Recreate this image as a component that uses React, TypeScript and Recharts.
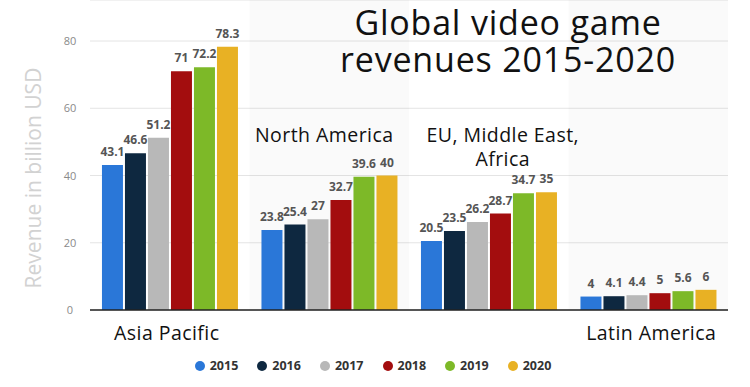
import React from 'react';
import { BarChart, Bar, XAxis, YAxis, CartesianGrid, ReferenceArea, LabelList } from 'recharts';

const categories = ['Asia Pacific', 'North America', 'EU, Middle East, Africa', 'Latin America'];
const years = ['2015', '2016', '2017', '2018', '2019', '2020'];
const rev2015 = [43.1, 23.8, 20.5, 4];
const rev2016 = [46.6, 25.4, 23.5, 4.1];
const rev2017 = [51.2, 27, 26.2, 4.4];
const rev2018 = [71, 32.7, 28.7, 5];
const rev2019 = [72.2, 39.6, 34.7, 5.6];
const rev2020 = [78.3, 40, 35, 6];
const yTicks = [0, 20, 40, 60, 80];
const categoryLines = [['Asia Pacific'], ['North America'], ['EU, Middle East,', 'Africa'], ['Latin America']];
const titleLines = ['Global video game', 'revenues 2015-2020'];

const seriesValues = [rev2015, rev2016, rev2017, rev2018, rev2019, rev2020];
const colors = ['#2a77d8', '#0e2840', '#b8b8b8', '#a30d0e', '#7db928', '#e8b124'];

const data = categories.map((c, i) => {
  const row: any = { category: c };
  years.forEach((y, k) => { row['y' + y] = seriesValues[k][i]; });
  return row;
});

// label placement style per category (bottom below axis, or above the bars)
const labelStyle = [
  { top: false, dx: -3 },
  { top: true, dx: -5 },
  { top: true, dx: 14 },
  { top: false, dx: 3 },
];

const font = '"Open Sans", "Noto Sans", sans-serif';

const CategoryTick = (props: any) => {
  const { x, index } = props;
  const st = labelStyle[index] || { top: false, dx: 0 };
  const lines = categoryLines[index] || [];
  const baseY = st.top ? 142 : 340;
  return (
    <g>
      {lines.map((l, k) => (
        <text key={k} x={x + st.dx} y={baseY + k * 24} textAnchor="middle" fill="#111" fontSize={19.5} letterSpacing={0.45} fontFamily={font}>
          {l}
        </text>
      ))}
    </g>
  );
};

const YTick = (props: any) => {
  const { y, payload } = props;
  return (
    <text x={70} y={y} dy={4} textAnchor="middle" fill="#8a8a8a" fontSize={11} fontFamily={font}>
      {payload.value}
    </text>
  );
};

export default function App() {
  return (
    <div style={{ position: 'absolute', left: 0, top: 0, width: 750, height: 387, background: '#fff' }}>
      <BarChart
        width={750}
        height={387}
        data={data}
        margin={{ top: 0, right: 22, bottom: 0, left: 0 }}
        barCategoryGap="7.5%"
        barGap={2}
      >
        <CartesianGrid vertical={false} stroke="#e4e4e4" />
        {categories.map((c, i) =>
          i % 2 === 1 ? (
            <ReferenceArea key={c} x1={c} x2={c} fill="#000" fillOpacity={0.018} stroke="none" ifOverflow="visible" />
          ) : null
        )}
        <XAxis
          dataKey="category"
          height={77}
          axisLine={{ stroke: '#222', strokeWidth: 1.3 }}
          tickLine={false}
          tick={<CategoryTick />}
          interval={0}
        />
        <YAxis
          width={90}
          domain={[0, 92.2]}
          ticks={yTicks}
          axisLine={false}
          tickLine={false}
          tick={<YTick />}
        />
        {years.map((y, k) => (
          <Bar key={y} dataKey={'y' + y} fill={colors[k]} isAnimationActive={false}>
            <LabelList
              dataKey={'y' + y}
              position="top"
              offset={9}
              fill="#555"
              fontSize={12}
              fontWeight="bold"
              fontFamily={font}
            />
          </Bar>
        ))}
      </BarChart>
      {titleLines.map((t, k) => (
        <div
          key={t}
          style={{
            position: 'absolute', left: 258, width: 500, top: 4 + k * 37, fontFamily: font, fontSize: 34,
            letterSpacing: 0.8, lineHeight: '36px', color: '#111', textAlign: 'center', whiteSpace: 'nowrap',
          }}
        >
          {t}
        </div>
      ))}
      <div
        style={{
          position: 'absolute', left: 33, top: 178, transform: 'translate(-50%, -50%) rotate(-90deg)',
          whiteSpace: 'nowrap', fontFamily: font, fontSize: 21, color: '#d2d2d2',
        }}
      >
        Revenue in billion USD
      </div>
      <div
        style={{
          position: 'absolute', left: 0, top: 357, width: 746, display: 'flex', justifyContent: 'center',
          fontFamily: font, fontSize: 12.5, fontWeight: 'bold', color: '#333',
        }}
      >
        {years.map((y, k) => (
          <div key={y} style={{ display: 'flex', alignItems: 'center', marginRight: k < years.length - 1 ? 19 : 0 }}>
            <span style={{ width: 10, height: 10, borderRadius: 5, background: colors[k], display: 'inline-block', marginRight: 5 }} />
            <span>{y}</span>
          </div>
        ))}
      </div>
    </div>
  );
}
